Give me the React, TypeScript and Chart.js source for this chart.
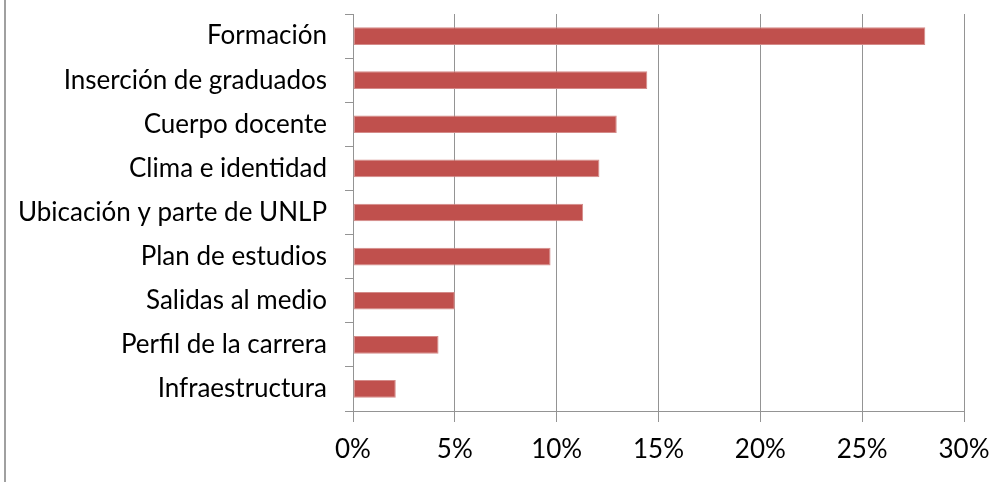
import React, { useEffect, useRef } from "react";
import { Chart, registerables } from "chart.js";

Chart.register(...registerables);

const categories = [
  "Formación",
  "Inserción de graduados",
  "Cuerpo docente",
  "Clima e identidad",
  "Ubicación y parte de UNLP",
  "Plan de estudios",
  "Salidas al medio",
  "Perfil de la carrera",
  "Infraestructura",
];
const values = [28.1, 14.45, 12.95, 12.1, 11.3, 9.7, 5.0, 4.2, 2.1];
const xTicks = [0, 5, 10, 15, 20, 25, 30];

export default function App() {
  const ref = useRef<HTMLCanvasElement | null>(null);
  useEffect(() => {
    if (!ref.current) return;
    const font = "Lato, 'Open Sans', sans-serif";
    const chart = new Chart(ref.current, {
      type: "bar",
      data: {
        labels: categories,
        datasets: [
          {
            data: values,
            backgroundColor: "#C0504D",
            borderColor: "#D48B89",
            borderWidth: 1,
            borderSkipped: false,
            barPercentage: 0.4,
            categoryPercentage: 1,
          },
        ],
      },
      options: {
        indexAxis: "y",
        animation: false,
        responsive: false,
        maintainAspectRatio: false,
        layout: { padding: { top: 14, right: 40, left: 0, bottom: 0 } },
        plugins: { legend: { display: false }, tooltip: { enabled: false } },
        scales: {
          x: {
            min: 0,
            max: 30,
            afterBuildTicks: (s: any) => {
              s.ticks = xTicks.map((v) => ({ value: v }));
            },
            afterFit: (s: any) => {
              s.height = 71;
              s.paddingLeft = 0;
              s.paddingRight = 0;
            },
            grid: {
              color: "#949494",
              lineWidth: 1,
              tickLength: 11,
              drawTicks: true,
            },
            border: { display: true, color: "#949494", width: 1 },
            ticks: {
              color: "#000",
              font: { family: font, size: 26 },
              padding: 12,
              callback: (v: any) => v + "%",
            },
          },
          y: {
            afterFit: (s: any) => {
              s.width = 353;
              s.paddingTop = 0;
              s.paddingBottom = 0;
            },
            grid: {
              display: true,
              drawOnChartArea: false,
              drawTicks: true,
              tickLength: 8,
              color: "#949494",
              offset: true,
            },
            border: { display: true, color: "#949494", width: 1 },
            ticks: {
              color: "#000",
              font: { family: font, size: 26 },
              padding: 18,
            },
          },
        },
      },
    });
    return () => chart.destroy();
  }, []);
  return (
    <div
      style={{
        position: "absolute",
        left: 0,
        top: 0,
        width: 1004,
        height: 482,
        background: "#fff",
      }}
    >
      <div
        style={{
          position: "absolute",
          left: 4,
          top: 0,
          width: 2,
          height: 482,
          background: "#A0A0A0",
        }}
      />
      <canvas
        ref={ref}
        width={1004}
        height={482}
        style={{ position: "absolute", left: 0, top: 0 }}
      />
    </div>
  );
}
